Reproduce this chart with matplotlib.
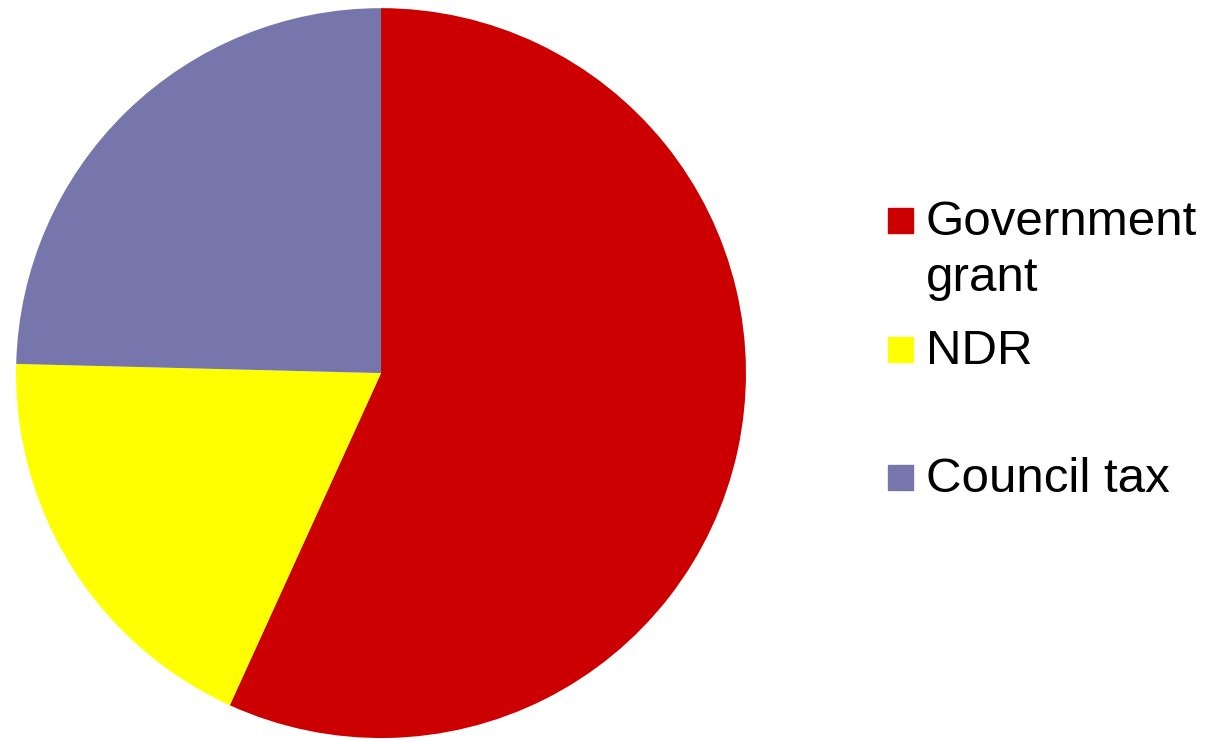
import matplotlib.pyplot as plt
from matplotlib.patches import Rectangle

# funding sources (share of total)
categorias = ["Government\ngrant", "NDR", "Council tax"]
valores = [56.8, 18.6, 24.6]
cores = ["#CC0000", "#FFFF00", "#7676AC"]

plt.rcParams['font.family'] = ['Liberation Sans', 'DejaVu Sans']

fig = plt.figure(figsize=(12.15, 7.41), dpi=100)
ax = fig.add_axes([0.0132, 0.004, 0.6008, 0.985])
ax.pie(valores, colors=cores, startangle=90, counterclock=False,
       wedgeprops={'linewidth': 0})
ax.set_aspect('equal')
ax.set_xlim(-1, 1)
ax.set_ylim(-1, 1)
ax.axis('off')

# legend drawn by hand, one entry every ~128 px, lines 55 px apart
for i in range(len(categorias)):
    base = 235 + i * 128.5
    fig.patches.append(Rectangle((888 / 1215, 1 - (base - 2) / 741), 25 / 1215, 25 / 741,
                                 transform=fig.transFigure, color=cores[i]))
    linhas = categorias[i].split("\n")
    for k in range(len(linhas)):
        fig.text(926 / 1215, 1 - (base + k * 56) / 741, linhas[k], fontsize=35.5,
                 va='baseline', ha='left')

plt.savefig("out.png")
plt.close()
